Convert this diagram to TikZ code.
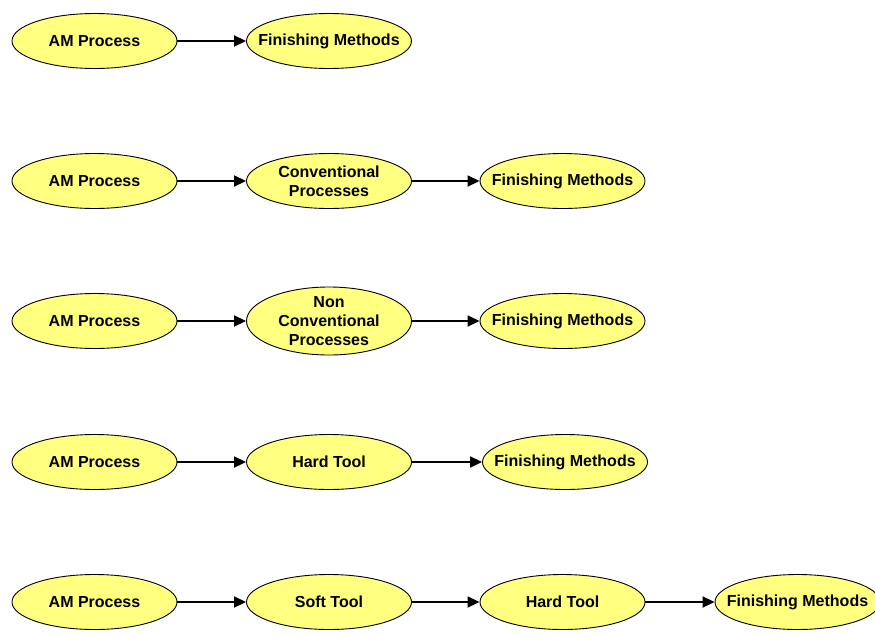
\documentclass[tikz,border=0pt]{standalone}
\usepackage{fontspec}
\setmainfont{Liberation Sans}
\usetikzlibrary{shapes.geometric,arrows.meta}
\definecolor{procfill}{RGB}{255,255,128}
\tikzset{
  proc/.style={ellipse, draw=black, line width=0.9pt, fill=procfill,
    minimum width=165pt, minimum height=55pt,
    inner xsep=-45pt, inner ysep=-25pt, align=center,
    font=\fontsize{16}{19}\selectfont\bfseries},
  tallproc/.style={proc, minimum height=68pt},
  flow/.style={line width=1.8pt, -{Triangle[length=12pt,width=11pt]}}
}
\begin{document}
\begin{tikzpicture}[x=1pt,y=-1pt]
\useasboundingbox (0,0) rectangle (875,635);
% route 1
\node[proc] (a1) at (94.5,41) {AM Process};
\node[proc] (f1) at (329,41) {Finishing Methods};
\draw[flow] (a1) -- (f1);
% route 2
\node[proc] (a2) at (94.5,181) {AM Process};
\node[proc] (c2) at (329,181) {Conventional\\Processes};
\node[proc] (f2) at (562.5,181) {Finishing Methods};
\draw[flow] (a2) -- (c2);
\draw[flow] (c2) -- (f2);
% route 3
\node[proc] (a3) at (94.5,321) {AM Process};
\node[tallproc] (n3) at (329,321) {Non\\Conventional\\Processes};
\node[proc] (f3) at (562.5,321) {Finishing Methods};
\draw[flow] (a3) -- (n3);
\draw[flow] (n3) -- (f3);
% route 4
\node[proc] (a4) at (94.5,462) {AM Process};
\node[proc] (h4) at (329,462) {Hard Tool};
\node[proc] (f4) at (565,462) {Finishing Methods};
\draw[flow] (a4) -- (h4);
\draw[flow] (h4) -- (f4);
% route 5
\node[proc] (a5) at (94.5,602) {AM Process};
\node[proc] (s5) at (329,602) {Soft Tool};
\node[proc] (h5) at (562.5,602) {Hard Tool};
\node[proc] (f5) at (797.5,602) {Finishing Methods};
\draw[flow] (a5) -- (s5);
\draw[flow] (s5) -- (h5);
\draw[flow] (h5) -- (f5);
\end{tikzpicture}
\end{document}
